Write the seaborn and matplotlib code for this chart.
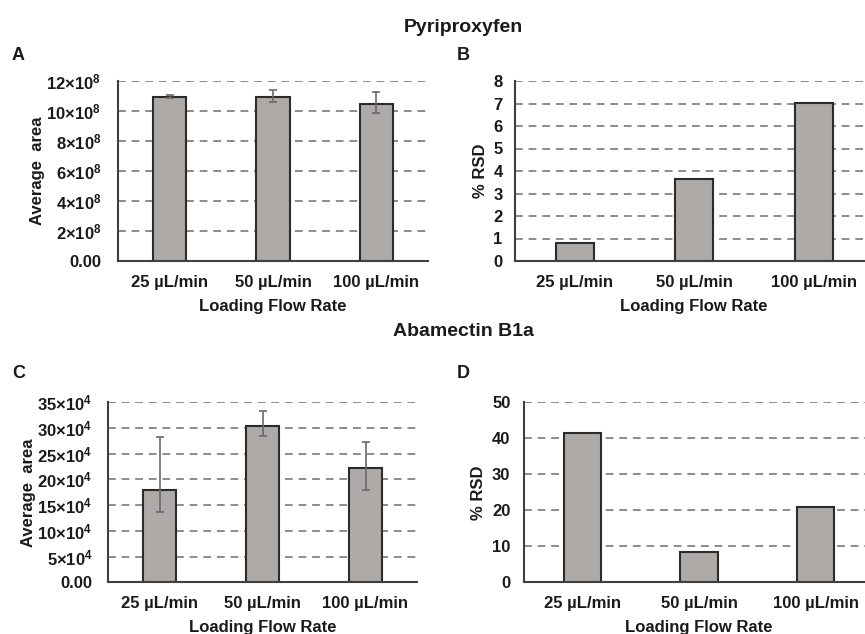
import matplotlib
matplotlib.use("Agg")
import matplotlib.pyplot as plt
import seaborn as sns
import pandas as pd
import numpy as np

sns.set_theme(style="white")
plt.rcParams["font.family"] = ["Liberation Sans", "DejaVu Sans"]
plt.rcParams["font.weight"] = "bold"
plt.rcParams["mathtext.default"] = "regular"

# Data
flow_rates = ["25 µL/min", "50 µL/min", "100 µL/min"]

pyr_area = [10.95, 10.95, 10.47]            # ×10^8
pyr_err_low = [0.09, 0.33, 0.62]
pyr_err_high = [0.09, 0.45, 0.82]
pyr_rsd = [0.81, 3.63, 7.01]

aba_area = [18.0, 30.3, 22.2]               # ×10^4
aba_err_low = [4.4, 1.8, 4.2]
aba_err_high = [10.2, 3.0, 5.0]
aba_rsd = [41.5, 8.5, 20.9]

pyr_ticks = [0, 2, 4, 6, 8, 10, 12]
pyr_tick_labels = ["0.00", "2×10$^{8}$", "4×10$^{8}$", "6×10$^{8}$",
                   "8×10$^{8}$", "10×10$^{8}$", "12×10$^{8}$"]
aba_ticks = [0, 5, 10, 15, 20, 25, 30, 35]
aba_tick_labels = ["0.00", "5×10$^{4}$", "10×10$^{4}$", "15×10$^{4}$",
                   "20×10$^{4}$", "25×10$^{4}$", "30×10$^{4}$", "35×10$^{4}$"]
rsd_pyr_ticks = list(range(0, 9))
rsd_aba_ticks = [0, 10, 20, 30, 40, 50]

BAR = "#aeaaa8"
EDGE = "#2b2b2b"
GRID = "#8c8c8c"
SPINE = "#404040"
ERR = "#6a6a6a"
TXT = "#1a1a1a"
FS = 12

fig = plt.figure(figsize=(8.65, 6.34), dpi=100)

def px_axes(left, right, top, bottom):
    W, H = 865, 634
    return fig.add_axes([left / W, (H - bottom) / H, (right - left) / W, (bottom - top) / H])

axA = px_axes(118, 428, 81, 261)
axB = px_axes(515, 873.5, 81, 261)
axC = px_axes(108, 417, 402.3, 582.3)
axD = px_axes(524.3, 873.8, 402.3, 582.3)


def style(ax, ymax, ticks, labels, ylabel, ypad, ylpad):
    ax.set_xlim(-0.5, 2.5)
    ax.set_ylim(0, ymax)
    ax.set_yticks(ticks)
    ax.set_yticklabels(labels, fontsize=FS, fontweight="bold", color=TXT)
    for t in ax.get_xticklabels():
        t.set_fontsize(FS)
        t.set_fontweight("bold")
        t.set_color(TXT)
    ax.tick_params(axis="y", length=0, pad=ypad)
    ax.tick_params(axis="x", length=0, pad=10)
    for y in ticks[1:]:
        ax.axhline(y, color=GRID, lw=1.4, ls=(0, (4, 3)), zorder=0)
    for s in ["top", "right"]:
        ax.spines[s].set_visible(False)
    for s in ["left", "bottom"]:
        ax.spines[s].set_color(SPINE)
        ax.spines[s].set_linewidth(1.5)
    ax.set_xlabel("Loading Flow Rate", fontsize=FS, fontweight="bold", color=TXT, labelpad=6.5)
    ax.set_ylabel(ylabel, fontsize=FS, fontweight="bold", color=TXT, labelpad=ylpad)
    ax.grid(False)


def bars(ax, values, lo=None, hi=None):
    df = pd.DataFrame({"rate": flow_rates, "value": values})
    sns.barplot(data=df, x="rate", y="value", color=BAR, edgecolor=EDGE,
                linewidth=1.5, width=0.32, saturation=1, ax=ax, zorder=2)
    if lo is not None:
        ax.errorbar(np.arange(len(values)), values, yerr=[lo, hi], fmt="none",
                    ecolor=ERR, elinewidth=1.2, capsize=3, capthick=1.2, zorder=3)


bars(axA, pyr_area, pyr_err_low, pyr_err_high)
style(axA, 12, pyr_ticks, pyr_tick_labels, "Average  area", 12, 1)
bars(axB, pyr_rsd)
style(axB, 8, rsd_pyr_ticks, [str(v) for v in rsd_pyr_ticks], "% RSD", 9, 4)
bars(axC, aba_area, aba_err_low, aba_err_high)
style(axC, 35, aba_ticks, aba_tick_labels, "Average  area", 11, 1)
bars(axD, aba_rsd)
style(axD, 50, rsd_aba_ticks, [str(v) for v in rsd_aba_ticks], "% RSD", 10, 4)

fig.text(463 / 865, 1 - 27 / 634, "Pyriproxyfen", ha="center", va="center",
         fontsize=14, fontweight="bold", color=TXT)
fig.text(463 / 865, 1 - 331 / 634, "Abamectin B1a", ha="center", va="center",
         fontsize=14, fontweight="bold", color=TXT)
for lab, x, y in [("A", 12, 55), ("B", 457, 55), ("C", 12, 373), ("D", 457, 373)]:
    fig.text(x / 865, 1 - y / 634, lab, ha="left", va="center",
             fontsize=13, fontweight="bold", color=TXT)

fig.savefig("out.png", dpi=100, facecolor="white")
